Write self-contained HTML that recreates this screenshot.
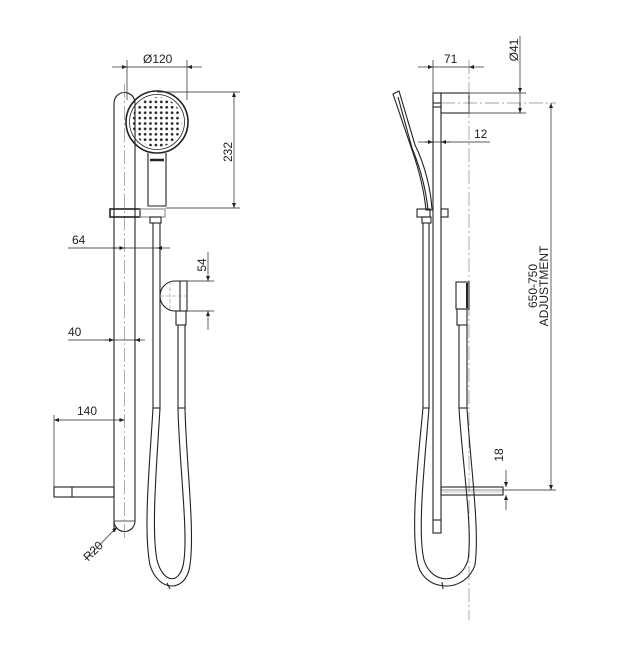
<!DOCTYPE html>
<html><head><meta charset="utf-8"><style>
html,body{margin:0;padding:0;background:#fff;}
svg{display:block;}
text{font-family:"Liberation Sans",sans-serif;font-size:12px;fill:#222;}
</style></head><body>
<svg width="617" height="650" viewBox="0 0 617 650" xmlns="http://www.w3.org/2000/svg">
<defs>
<marker id="a" viewBox="0 0 10 10" refX="10" refY="5" markerWidth="8" markerHeight="5" markerUnits="userSpaceOnUse" orient="auto-start-reverse"><path d="M0,1 L10,5 L0,9 z" fill="#222"/></marker>
<pattern id="dots" x="2" y="2" width="5.4" height="5.4" patternUnits="userSpaceOnUse"><circle cx="2.7" cy="2.7" r="1.35" fill="#222"/></pattern>
</defs>
<g fill="none" stroke="#222" stroke-width="1.1">
<path d="M114,532 L114,103 A10.5,10.5 0 0 1 135,103 L135,521 A10.5,10.5 0 0 1 114,521"/>
<line x1="114" y1="521" x2="135" y2="521" stroke-width="0.8"/>
<line x1="124.5" y1="84" x2="124.5" y2="540" stroke="#888" stroke-width="0.7" stroke-dasharray="14,3,2,3"/>
<circle cx="157" cy="122" r="31" stroke-width="1.6"/>
<circle cx="157" cy="122" r="27.5" stroke-width="0.8"/>
<circle cx="157" cy="122" r="25" fill="url(#dots)" stroke="none"/>
<path d="M148,153 L148,206 L166,206 L166,153"/>
<line x1="150" y1="160" x2="164" y2="160" stroke-width="2.5"/>
<rect x="110" y="209" width="30" height="8" stroke-width="1.6"/>
<rect x="140" y="209" width="25" height="8" stroke="#888"/>
<rect x="150" y="217" width="11" height="6"/>
<path d="M153,223 L153,408 C150,460 143,530 150,565 C158,592 186,594 190,565 C195,530 186,460 185,408 L185,325"/>
<path d="M160,223 L160,408 C157,460 151,530 157,560 C163,584 181,586 184,560 C188,530 179,460 178,408 L178,325"/>
<line x1="153" y1="408" x2="160" y2="408"/><line x1="178" y1="408" x2="185" y2="408"/>
<line x1="167" y1="583" x2="170" y2="589"/>
<path d="M187,281 L175,281 A15,15 0 0 0 175,311 L187,311 Z"/>
<line x1="180" y1="281" x2="180" y2="311"/>
<rect x="176" y="311" width="10" height="14"/>
<line x1="160" y1="296" x2="187" y2="296" stroke="#888" stroke-width="0.6" stroke-dasharray="4,2"/>
<line x1="170" y1="281" x2="170" y2="311" stroke="#888" stroke-width="0.6" stroke-dasharray="4,2"/>
<rect x="54" y="487" width="60" height="10"/>
<line x1="72" y1="487" x2="72" y2="497"/>
<rect x="433" y="93" width="8" height="440"/>
<line x1="433" y1="520" x2="441" y2="520"/>
<line x1="433" y1="103" x2="441" y2="103"/><line x1="433" y1="107" x2="441" y2="107"/>
<rect x="441" y="93" width="28" height="20"/>
<line x1="469" y1="60" x2="469" y2="620" stroke="#888" stroke-width="0.7" stroke-dasharray="14,3,2,3"/>
<line x1="441" y1="103" x2="556" y2="103" stroke="#888" stroke-width="0.7" stroke-dasharray="14,3,2,3"/>
<path d="M393,94 L399,91 L415,145 C425,165 431,190 432,210 L426,210 C424,190 419,170 412,150 Z"/>
<path d="M398,97 L412,148 C421,170 426,190 428,210"/>
<rect x="417" y="209" width="13" height="8"/><rect x="441" y="209" width="7" height="8"/>
<rect x="422" y="217" width="9" height="6"/>
<path d="M423,223 L423,408 C418,460 410,530 418,565 C425,592 465,594 475,565 C480,530 470,460 467,408 L467,325"/>
<path d="M429,223 L429,408 C425,460 417,530 424,560 C431,584 460,586 468,560 C473,530 462,460 459,408 L459,325"/>
<line x1="423" y1="408" x2="429" y2="408"/><line x1="459" y1="408" x2="467" y2="408"/>
<line x1="442" y1="582" x2="443" y2="589"/>
<rect x="456" y="282" width="13" height="27"/>
<line x1="467" y1="283" x2="467" y2="308" stroke-width="2"/>
<rect x="457" y="309" width="10" height="16"/>
<rect x="441" y="487" width="62" height="8"/>
<line x1="441" y1="490" x2="503" y2="490" stroke-width="0.6"/>
<line x1="441" y1="492" x2="503" y2="492" stroke="#888" stroke-width="0.6"/>
</g>
<g fill="none" stroke="#222" stroke-width="0.7">
<line x1="127" y1="60" x2="127" y2="100"/><line x1="187" y1="60" x2="187" y2="100"/>
<line x1="112" y1="67" x2="127" y2="67" marker-end="url(#a)"/><line x1="202" y1="67" x2="187" y2="67" marker-end="url(#a)"/>
<line x1="127" y1="67" x2="187" y2="67"/>
<line x1="157" y1="92" x2="240" y2="92"/><line x1="166" y1="208" x2="240" y2="208"/>
<line x1="234" y1="92" x2="234" y2="208" marker-start="url(#a)" marker-end="url(#a)"/>
<line x1="68" y1="248" x2="160" y2="248"/>
<line x1="112" y1="248" x2="124.5" y2="248" marker-end="url(#a)"/><line x1="170" y1="248" x2="157" y2="248" marker-end="url(#a)"/>
<line x1="187" y1="281" x2="214" y2="281"/><line x1="187" y1="311" x2="214" y2="311"/>
<line x1="208" y1="252" x2="208" y2="281" marker-end="url(#a)"/><line x1="208" y1="330" x2="208" y2="311" marker-end="url(#a)"/>
<line x1="68" y1="340" x2="135" y2="340"/>
<line x1="104" y1="340" x2="114" y2="340" marker-end="url(#a)"/><line x1="145" y1="340" x2="135" y2="340" marker-end="url(#a)"/>
<line x1="54" y1="420" x2="124.5" y2="420" marker-start="url(#a)" marker-end="url(#a)"/>
<line x1="54" y1="415" x2="54" y2="487"/>
<line x1="85" y1="560" x2="117" y2="527" marker-end="url(#a)"/>
<line x1="433" y1="60" x2="433" y2="93"/>
<line x1="418" y1="67" x2="433" y2="67" marker-end="url(#a)"/><line x1="484" y1="67" x2="469" y2="67" marker-end="url(#a)"/>
<line x1="433" y1="67" x2="469" y2="67"/>
<line x1="469" y1="93" x2="526" y2="93"/><line x1="469" y1="113" x2="526" y2="113"/>
<line x1="520" y1="36" x2="520" y2="93" marker-end="url(#a)"/><line x1="520" y1="113" x2="520" y2="103" marker-start="url(#a)"/>
<line x1="520" y1="93" x2="520" y2="113"/>
<line x1="425" y1="142" x2="490" y2="142"/>
<line x1="418" y1="142" x2="433" y2="142" marker-end="url(#a)"/><line x1="450" y1="142" x2="441" y2="142" marker-end="url(#a)"/>
<line x1="551" y1="103" x2="551" y2="490" marker-start="url(#a)" marker-end="url(#a)"/>
<line x1="503" y1="490" x2="556" y2="490"/>
<line x1="506" y1="470" x2="506" y2="487" marker-end="url(#a)"/><line x1="506" y1="510" x2="506" y2="495" marker-end="url(#a)"/>
</g>
<text x="143" y="63">Ø120</text>
<text transform="translate(232,152) rotate(-90)" text-anchor="middle">232</text>
<text x="72" y="244">64</text>
<text transform="translate(206,265) rotate(-90)" text-anchor="middle">54</text>
<text x="68" y="336">40</text>
<text x="77" y="415">140</text>
<text transform="translate(96,554) rotate(-45)" text-anchor="middle">R20</text>
<text x="444" y="63">71</text>
<text transform="translate(518,50) rotate(-90)" text-anchor="middle">Ø41</text>
<text x="474" y="138">12</text>
<text transform="translate(537,286) rotate(-90)" text-anchor="middle">650-750</text>
<text transform="translate(548,286) rotate(-90)" text-anchor="middle">ADJUSTMENT</text>
<text transform="translate(503,455) rotate(-90)" text-anchor="middle">18</text>
</svg>
</body></html>
